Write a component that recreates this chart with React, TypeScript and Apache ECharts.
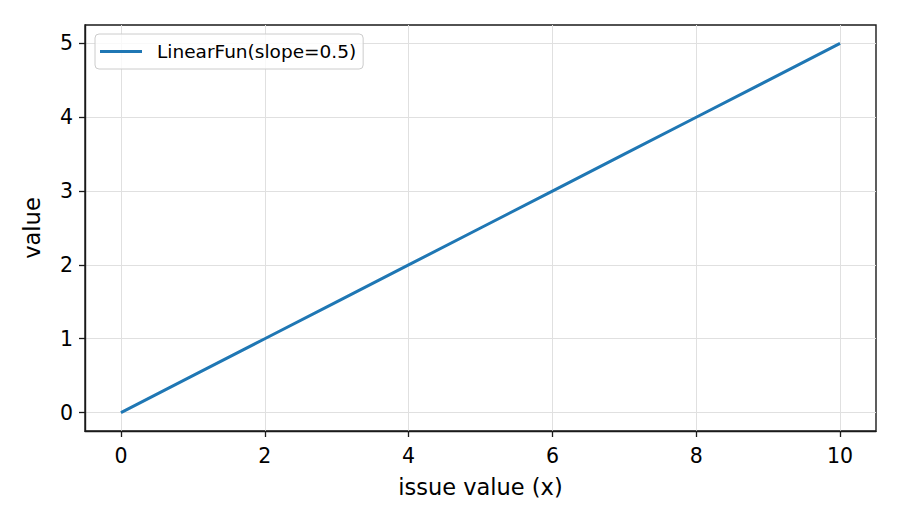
import React, { useEffect, useRef } from "react";
import * as echarts from "echarts";

const xValues = [0, 1, 2, 3, 4, 5, 6, 7, 8, 9, 10];
const yValues = [0, 0.5, 1, 1.5, 2, 2.5, 3, 3.5, 4, 4.5, 5];
const xTicks = [0, 2, 4, 6, 8, 10];
const yTicks = [0, 1, 2, 3, 4, 5];
const seriesName = "LinearFun(slope=0.5)";

const FONT = "DejaVu Sans";

export default function App() {
  const ref = useRef<HTMLDivElement>(null);
  useEffect(() => {
    if (!ref.current) return;
    const chart = echarts.init(ref.current, null, { renderer: "svg" });
    const axisCommon = {
      axisLine: { show: true, onZero: false, lineStyle: { color: "#1a1a1a", width: 1.4 } },
      axisTick: { show: true, inside: false, length: 6, lineStyle: { color: "#1a1a1a", width: 1.3 } },
      splitLine: { show: true, lineStyle: { color: "#e0e0e0", width: 1 } },
      nameTextStyle: { fontFamily: FONT, fontSize: 22.5, color: "#000" },
      nameLocation: "middle" as const,
    };
    chart.setOption({
      animation: false,
      backgroundColor: "#fff",
      grid: { left: 85, right: 24, top: 25, bottom: 94, containLabel: false, show: true, borderColor: "#1a1a1a", borderWidth: 1.4 },
      legend: {
        left: 95,
        top: 34,
        orient: "horizontal",
        padding: [8, 7, 8, 5],
        itemWidth: 42,
        itemHeight: 3,
        icon: "rect",
        borderColor: "#cccccc",
        borderWidth: 1,
        borderRadius: 4,
        backgroundColor: "rgba(255,255,255,0.8)",
        textStyle: { fontFamily: FONT, fontSize: 18.5, color: "#000", padding: [0, 0, 0, 10] },
        data: [{ name: seriesName }],
      },
      xAxis: {
        type: "value",
        min: -0.5,
        max: 10.5,
        name: "issue value (x)",
        nameGap: 44,
        ...axisCommon,
        axisTick: { ...axisCommon.axisTick, customValues: xTicks },
        axisLabel: { customValues: xTicks, fontFamily: FONT, fontSize: 20.5, color: "#000", margin: 14 },
      },
      yAxis: {
        type: "value",
        min: -0.25,
        max: 5.25,
        name: "value",
        nameGap: 42,
        ...axisCommon,
        axisTick: { ...axisCommon.axisTick, customValues: yTicks },
        axisLabel: { customValues: yTicks, fontFamily: FONT, fontSize: 20.5, color: "#000", margin: 12 },
      },
      series: [
        {
          name: seriesName,
          type: "line",
          data: xValues.map((x, i) => [x, yValues[i]]),
          symbol: "none",
          showSymbol: false,
          lineStyle: { color: "#1f77b4", width: 3 },
          itemStyle: { color: "#1f77b4" },
        },
      ],
    });
    return () => chart.dispose();
  }, []);
  return <div ref={ref} style={{ width: 900, height: 525, position: "absolute", left: 0, top: 0 }} />;
}
